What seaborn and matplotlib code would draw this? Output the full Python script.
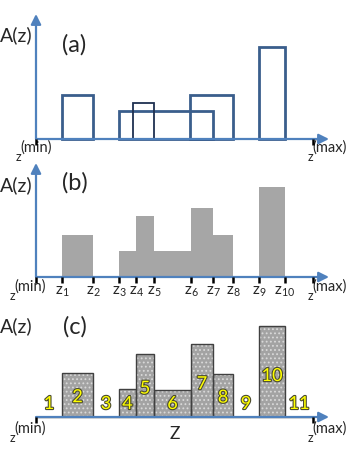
import matplotlib
matplotlib.use("Agg")
import matplotlib.pyplot as plt
import matplotlib.patheffects as pe
import seaborn as sns
import numpy as np

# ---------------- data ----------------
z_edges = [0, 26, 57, 83, 100, 118, 155, 177, 197, 223, 249, 277]   # z(min), z1..z10, z(max)
z_tick_names = ["1", "2", "3", "4", "5", "6", "7", "8", "9", "10"]

# (a) overlapping source intervals
a_left = [26, 83, 97, 154, 223]
a_right = [57, 177, 118, 197, 249]
a_height = [44, 28, 36, 44, 92]

# (b) summed profile on the elementary bins
b_height = [0, 42, 0, 26, 61, 26, 69, 42, 0, 90, 0]

# (c) binned amplitude
c_height = [0, 44, 0, 28, 63, 27, 73, 43, 0, 91, 0]
c_labels = ["1", "2", "3", "4", "5", "6", "7", "8", "9", "10", "11"]

# ---------------- style ----------------
sns.set_style("white")
plt.rcParams["font.family"] = ["Lato", "DejaVu Sans"]
plt.rcParams["mathtext.default"] = "regular"

AX_BLUE = "#4f81bd"
W, H = 357, 476
fig = plt.figure(figsize=(W / 100, H / 100), dpi=100)

# panel placement (top px, bottom px, baseline px)
panels = [(0, 155, 139), (155, 310, 277), (310, 476, 417)]
axes = []
for top, bot, base in panels:
    ax = fig.add_axes([0, 1 - bot / H, 1, (bot - top) / H])
    ax.set_xlim(-36, W - 36)
    ax.set_ylim(base - bot, base - top)
    ax.axis("off")
    axes.append(ax)

centers = [(z_edges[i] + z_edges[i + 1]) / 2 for i in range(len(z_edges) - 1)]
zmin, zmax = z_edges[0], z_edges[-1]


def draw_axes(ax, ytop, ticks):
    style = "-|>,head_length=0.6,head_width=0.3"
    ax.annotate("", xy=(zmax + 16, 0), xytext=(zmin, 0),
                arrowprops=dict(arrowstyle=style, color=AX_BLUE, lw=1.6,
                                shrinkA=0, shrinkB=0), zorder=10)
    ax.annotate("", xy=(zmin, ytop), xytext=(zmin, 0),
                arrowprops=dict(arrowstyle=style, color=AX_BLUE, lw=1.6,
                                shrinkA=0, shrinkB=0), zorder=10)
    ax.vlines(ticks, -6, 0, color="black", lw=1.8, zorder=11, clip_on=False)


def minmax_labels(ax, y, dx_min=0):
    ax.text(-24 + dx_min, y - 4, "z", fontsize=9, ha="center", va="center")
    ax.text(-6 + dx_min, y + 5, "(min)", fontsize=10.5, ha="center", va="center")
    ax.text(zmax - 3, y - 4, "z", fontsize=9, ha="center", va="center")
    ax.text(zmax + 17, y + 5, "(max)", fontsize=10.5, ha="center", va="center")


# ---------------- (a) ----------------
ax = axes[0]
for i, (l, r, h) in enumerate(zip(a_left, a_right, a_height)):
    thin = (i == 2)
    sns.histplot(x=[(l + r) / 2], weights=[h], bins=[l, r], ax=ax,
                 fill=False, element="bars",
                 color="#1f3050" if thin else "#3a5e8c",
                 linewidth=1.3 if thin else 2.0, zorder=3 + i)
draw_axes(ax, 125, [zmin, zmax])
minmax_labels(ax, -14, dx_min=6)
ax.text(-36, 104, "A(z)", fontsize=14, ha="left", va="center")
ax.text(38, 94, "(a)", fontsize=17, ha="center", va="center")

# ---------------- (b) ----------------
ax = axes[1]
sns.histplot(x=centers, weights=b_height, bins=z_edges, ax=ax,
             color="#a6a6a6", alpha=1, edgecolor="none", linewidth=0,
             element="bars", zorder=3)
draw_axes(ax, 114, z_edges)
minmax_labels(ax, -15)
for x, n in zip(z_edges[1:-1], z_tick_names):
    ax.text(x, -15, r"$z_{%s}$" % n, fontsize=11, ha="center", va="center")
ax.text(-36, 92, "A(z)", fontsize=14, ha="left", va="center")
ax.text(39, 94, "(b)", fontsize=17, ha="center", va="center")

# ---------------- (c) ----------------
ax = axes[2]
plt.rcParams["hatch.color"] = "#d9d9d9"
plt.rcParams["hatch.linewidth"] = 0.8
sns.histplot(x=centers, weights=c_height, bins=z_edges, ax=ax,
             color="#a3a3a3", alpha=1, edgecolor="#d9d9d9", linewidth=0,
             hatch="....", element="bars", zorder=3)
sns.histplot(x=centers, weights=c_height, bins=z_edges, ax=ax,
             fill=False, color="#404040", linewidth=1.0,
             element="bars", zorder=4)
draw_axes(ax, 112, [zmin, zmax])
minmax_labels(ax, -17)
for x, h, lab in zip(centers, c_height, c_labels):
    ax.text(x, max(h * 0.45, 13), lab, fontsize=13, color="#ffff00",
            ha="center", va="center", zorder=12,
            path_effects=[pe.withStroke(linewidth=1.6, foreground="#4a4a30")])
ax.text(139, -17, "Z", fontsize=12.5, ha="center", va="center")
ax.text(-36, 91, "A(z)", fontsize=14, ha="left", va="center")
ax.text(39, 90, "(c)", fontsize=17, ha="center", va="center")

fig.savefig("out.png", dpi=100)
